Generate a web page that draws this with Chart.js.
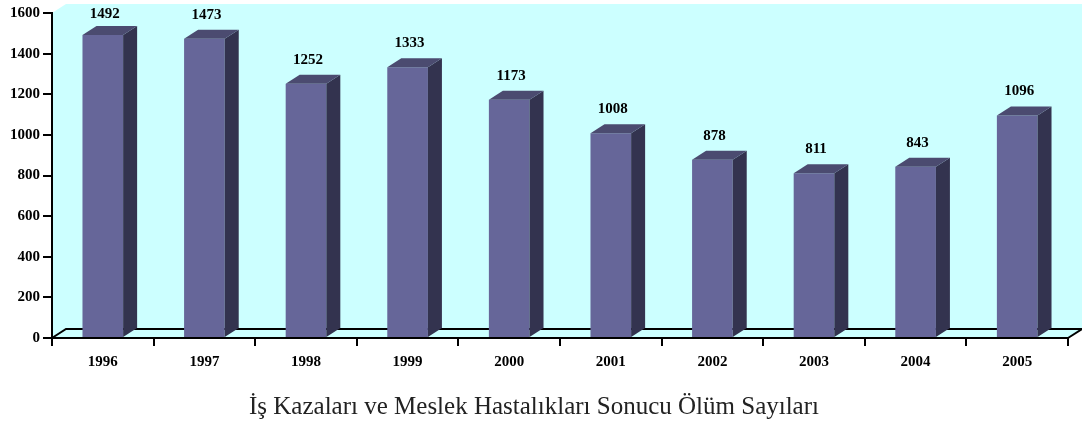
<!DOCTYPE html>
<html>
<head>
<meta charset="utf-8">
<script src="https://cdn.jsdelivr.net/npm/chart.js@4/dist/chart.umd.min.js"></script>
<style>
  html, body { margin: 0; padding: 0; background: #fff; }
  #wrap { width: 1082px; height: 430px; }
</style>
</head>
<body>
<div id="wrap"><canvas id="chart" width="1082" height="430"></canvas></div>
<script>
const years = ['1996', '1997', '1998', '1999', '2000', '2001', '2002', '2003', '2004', '2005'];
const deaths = [1492, 1473, 1252, 1333, 1173, 1008, 878, 811, 843, 1096];
const yTicks = [0, 200, 400, 600, 800, 1000, 1200, 1400, 1600];
const chartTitle = 'İş Kazaları ve Meslek Hastalıkları Sonucu Ölüm Sayıları';

const DX = 14, DY = -9;
const serif = '"Liberation Serif", "Times New Roman", serif';

// cyan back wall, side wall and floor of the 3D box
const wallPlugin = {
    id: 'wall',
    beforeDraw(chart) {
        const { ctx, chartArea: a } = chart;
        ctx.save();
        ctx.fillStyle = '#ccffff';
        ctx.fillRect(a.left + DX, a.top + DY, a.right - a.left, a.bottom - a.top);
        ctx.beginPath();
        ctx.moveTo(a.left, a.top);
        ctx.lineTo(a.left + DX, a.top + DY);
        ctx.lineTo(a.left + DX, a.bottom + DY);
        ctx.lineTo(a.right + DX, a.bottom + DY);
        ctx.lineTo(a.right, a.bottom);
        ctx.lineTo(a.left, a.bottom);
        ctx.closePath();
        ctx.fill();
        ctx.strokeStyle = '#000';
        ctx.lineWidth = 2;
        ctx.beginPath();
        ctx.moveTo(a.left, a.bottom);
        ctx.lineTo(a.left + DX, a.bottom + DY);
        ctx.lineTo(a.right + DX, a.bottom + DY);
        ctx.lineTo(a.right, a.bottom);
        ctx.stroke();
        ctx.restore();
    }
};

// side and top faces plus value labels
const depthPlugin = {
    id: 'depth',
    afterDatasetsDraw(chart) {
        const { ctx } = chart;
        const meta = chart.getDatasetMeta(0);
        ctx.save();
        meta.data.forEach((bar, i) => {
            const l = bar.x - bar.width / 2, r = bar.x + bar.width / 2;
            const t = bar.y, b = bar.base;
            ctx.fillStyle = '#33334f';
            ctx.beginPath();
            ctx.moveTo(r, t);
            ctx.lineTo(r + DX, t + DY);
            ctx.lineTo(r + DX, b + DY);
            ctx.lineTo(r, b);
            ctx.closePath();
            ctx.fill();
            ctx.fillStyle = '#4b4b70';
            ctx.beginPath();
            ctx.moveTo(l, t);
            ctx.lineTo(l + DX, t + DY);
            ctx.lineTo(r + DX, t + DY);
            ctx.lineTo(r, t);
            ctx.closePath();
            ctx.fill();

            ctx.fillStyle = '#000';
            ctx.font = 'bold 15px ' + serif;
            ctx.textAlign = 'center';
            ctx.textBaseline = 'middle';
            ctx.fillText(String(deaths[i]), bar.x + 2, Math.max(t + DY - 15, 14));
        });
        ctx.restore();
    }
};

new Chart(document.getElementById('chart'), {
    type: 'bar',
    data: {
        labels: years,
        datasets: [{
            data: deaths,
            backgroundColor: '#666699',
            borderWidth: 0,
            barPercentage: 0.4,
            categoryPercentage: 1
        }]
    },
    options: {
        responsive: false,
        animation: false,
        layout: { padding: { top: 13, right: 14, left: 0, bottom: 0 } },
        plugins: {
            legend: { display: false },
            tooltip: { enabled: false },
            title: {
                display: true,
                text: chartTitle,
                position: 'bottom',
                color: '#222',
                font: { family: serif, size: 25, weight: 'normal' },
                padding: { top: 0, bottom: 8 }
            }
        },
        scales: {
            x: {
                afterFit(scale) { scale.height = 54; },
                grid: { offset: true, drawOnChartArea: false, color: '#000', lineWidth: 2, tickLength: 8 },
                border: { color: '#000', width: 2 },
                ticks: { color: '#000', padding: 7, font: { family: serif, size: 15, weight: 'bold' } }
            },
            y: {
                min: 0,
                max: 1600,
                afterFit(scale) { scale.width = 52; },
                afterBuildTicks(scale) { scale.ticks = yTicks.map(v => ({ value: v })); },
                grid: { drawOnChartArea: false, color: '#000', lineWidth: 2, tickLength: 9 },
                border: { color: '#000', width: 2 },
                ticks: {
                    color: '#000',
                    padding: 3,
                    font: { family: serif, size: 15, weight: 'bold' },
                    callback: v => String(v)
                }
            }
        }
    },
    plugins: [wallPlugin, depthPlugin]
});
</script>
</body>
</html>
